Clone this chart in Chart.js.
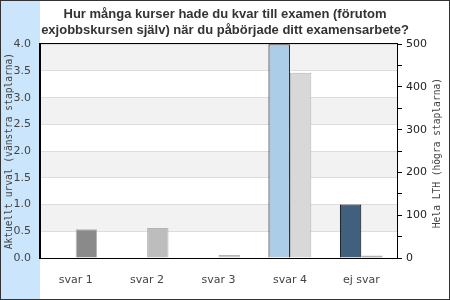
<!DOCTYPE html>
<html>
<head>
<meta charset="utf-8">
<script src="https://cdn.jsdelivr.net/npm/chart.js@4"></script>
<style>
  body { margin: 0; background: #fff; }
  canvas { display: block; }
</style>
</head>
<body>
<canvas id="chart" width="450" height="300"></canvas>
<script>
const titleLines = ["Hur många kurser hade du kvar till examen (förutom", "exjobbskursen själv) när du påbörjade ditt examensarbete?"];
const categories = ["svar 1", "svar 2", "svar 3", "svar 4", "ej svar"];
const urvalValues = [0, 0, 0, 4, 1];
const lthValues = [67, 70, 7, 433, 6];
const urvalColors = ["#1f3d5c", "#5a7fa3", "#7fa7cc", "#abcde8", "#41607e"];
const lthColors = ["#8a8a8a", "#bdbdbd", "#c8c8c8", "#d8d8d8", "#8a8a8a"];
const leftTitle = "Aktuellt urval (vänstra staplarna)";
const rightTitle = "Hela LTH (högra staplarna)";

const decor = {
    id: "decor",
    beforeDraw(chart) {
        const c = chart.ctx;
        const area = chart.chartArea;
        const y = chart.scales.y;
        c.save();
        c.fillStyle = "#fff";
        c.fillRect(0, 0, chart.width, chart.height);
        c.fillStyle = "#cbe6fc";
        c.fillRect(1, 1, 39, chart.height - 2);
        c.fillStyle = "#f2f2f2";
        for (let v = 0.5; v < 4; v += 1) {
            const top = y.getPixelForValue(v + 0.5);
            const bottom = y.getPixelForValue(v);
            c.fillRect(area.left, top, area.right - area.left, bottom - top);
        }
        c.restore();
    },
    afterDraw(chart) {
        const c = chart.ctx;
        const area = chart.chartArea;
        c.save();
        c.strokeStyle = "#000";
        c.lineWidth = 1;
        c.strokeRect(Math.round(area.left) - 0.5, Math.round(area.top) - 0.5,
            Math.round(area.right - area.left) + 1, Math.round(area.bottom - area.top) + 1);
        c.strokeStyle = "#333";
        c.strokeRect(0.5, 0.5, chart.width - 1, chart.height - 1);

        c.fillStyle = "#444";
        c.font = '9.6px "DejaVu Sans Mono"';
        c.textAlign = "center";
        c.textBaseline = "middle";
        const mid = (area.top + area.bottom) / 2;
        c.translate(9, mid);
        c.rotate(-Math.PI / 2);
        c.fillText(leftTitle, 0, 0);
        c.setTransform(1, 0, 0, 1, 0, 0);
        c.translate(437, mid + 2);
        c.rotate(-Math.PI / 2);
        c.fillText(rightTitle, 0, 0);
        c.restore();
    }
};

const ctx = document.getElementById("chart").getContext("2d");
const chart = new Chart(ctx, {
    type: "bar",
    data: {
        labels: categories,
        datasets: [{
            label: leftTitle,
            data: urvalValues,
            yAxisID: "y",
            backgroundColor: urvalColors,
            borderColor: "#000",
            borderWidth: 1
        }, {
            label: rightTitle,
            data: lthValues,
            yAxisID: "y1",
            backgroundColor: lthColors,
            borderColor: "#b4b4b4",
            borderWidth: 1
        }]
    },
    options: {
        responsive: false,
        animation: false,
        categoryPercentage: 0.6,
        barPercentage: 1,
        layout: { padding: 0 },
        plugins: {
            legend: { display: false },
            tooltip: { enabled: false },
            title: {
                display: true,
                text: titleLines,
                color: "#333",
                font: { family: "Liberation Sans", size: 13, weight: "bold" },
                padding: { top: 7, bottom: 6 }
            }
        },
        scales: {
            x: {
                grid: { display: false },
                border: { color: "#000" },
                ticks: { color: "#444", padding: 8, font: { family: "DejaVu Sans", size: 11 } },
                afterFit(scale) { scale.height = 42; }
            },
            y: {
                position: "left",
                min: 0,
                max: 4,
                grid: { color: "#dddddd", drawTicks: false },
                border: { color: "#000" },
                ticks: {
                    stepSize: 0.5,
                    padding: 9,
                    color: "#444",
                    font: { family: "DejaVu Sans", size: 11 },
                    callback: v => v.toFixed(1)
                },
                afterFit(scale) { scale.width = 40; }
            },
            y1: {
                position: "right",
                min: 0,
                max: 500,
                grid: { drawOnChartArea: false, color: "#000", tickLength: 5 },
                border: { color: "#000" },
                ticks: {
                    stepSize: 50,
                    padding: 4,
                    color: "#222",
                    font: { family: "DejaVu Sans", size: 11 },
                    callback: v => (v % 100 === 0 ? v : "")
                },
                afterFit(scale) { scale.width = 53; }
            }
        }
    },
    plugins: [decor]
});
</script>
</body>
</html>
